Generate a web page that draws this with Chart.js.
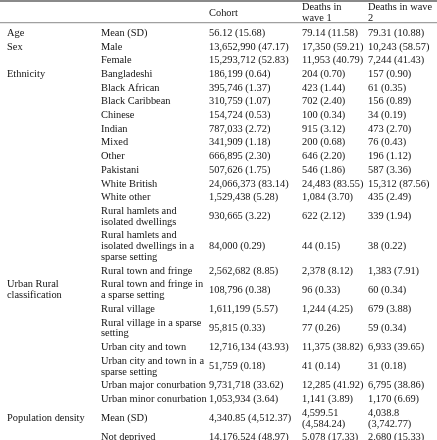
<!DOCTYPE html>
<html>
<head>
<meta charset="utf-8">
<script src="https://cdn.jsdelivr.net/npm/chart.js@4.4.0/dist/chart.umd.min.js"></script>
<style>
  html, body { margin: 0; padding: 0; background: #fff; }
  canvas { display: block; }
</style>
</head>
<body>
<canvas id="tbl" width="437" height="440"></canvas>
<script>
const headers = ['', '', 'Cohort', 'Deaths in\nwave 1', 'Deaths in wave\n2'];

const groups = [
  'Age', 'Sex', '', 'Ethnicity', '', '', '', '', '', '', '', '', '',
  '', '', '', 'Urban Rural\nclassification', '', '', '', '', '', '',
  'Population density', ''
];

const labels = [
  'Mean (SD)', 'Male', 'Female', 'Bangladeshi', 'Black African', 'Black Caribbean',
  'Chinese', 'Indian', 'Mixed', 'Other', 'Pakistani', 'White British', 'White other',
  'Rural hamlets and\nisolated dwellings',
  'Rural hamlets and\nisolated dwellings in a\nsparse setting',
  'Rural town and fringe',
  'Rural town and fringe in\na sparse setting',
  'Rural village',
  'Rural village in a sparse\nsetting',
  'Urban city and town',
  'Urban city and town in a\nsparse setting',
  'Urban major conurbation',
  'Urban minor conurbation',
  'Mean (SD)',
  'Not deprived'
];

const cohort = [
  '56.12 (15.68)', '13,652,990 (47.17)', '15,293,712 (52.83)', '186,199 (0.64)',
  '395,746 (1.37)', '310,759 (1.07)', '154,724 (0.53)', '787,033 (2.72)',
  '341,909 (1.18)', '666,895 (2.30)', '507,626 (1.75)', '24,066,373 (83.14)',
  '1,529,438 (5.28)', '930,665 (3.22)', '84,000 (0.29)', '2,562,682 (8.85)',
  '108,796 (0.38)', '1,611,199 (5.57)', '95,815 (0.33)', '12,716,134 (43.93)',
  '51,759 (0.18)', '9,731,718 (33.62)', '1,053,934 (3.64)', '4,340.85 (4,512.37)',
  '14,176,524 (48.97)'
];

const wave1 = [
  '79.14 (11.58)', '17,350 (59.21)', '11,953 (40.79)', '204 (0.70)', '423 (1.44)',
  '702 (2.40)', '100 (0.34)', '915 (3.12)', '200 (0.68)', '646 (2.20)', '546 (1.86)',
  '24,483 (83.55)', '1,084 (3.70)', '622 (2.12)', '44 (0.15)', '2,378 (8.12)',
  '96 (0.33)', '1,244 (4.25)', '77 (0.26)', '11,375 (38.82)', '41 (0.14)',
  '12,285 (41.92)', '1,141 (3.89)', '4,599.51\n(4,584.24)', '5,078 (17.33)'
];

const wave2 = [
  '79.31 (10.88)', '10,243 (58.57)', '7,244 (41.43)', '157 (0.90)', '61 (0.35)',
  '156 (0.89)', '34 (0.19)', '473 (2.70)', '76 (0.43)', '196 (1.12)', '587 (3.36)',
  '15,312 (87.56)', '435 (2.49)', '339 (1.94)', '38 (0.22)', '1,383 (7.91)',
  '60 (0.34)', '679 (3.88)', '59 (0.34)', '6,933 (39.65)', '31 (0.18)',
  '6,795 (38.86)', '1,170 (6.69)', '4,038.8\n(3,742.77)', '2,680 (15.33)'
];

// layout
const COL_X = [7, 101, 209, 302, 368];
const LINE = 10.8;
const HEAD_LINE = 11;
const PAD = 2.9;
const HEAD_TOP = 2;
const BODY_TOP = 26.25;
const FONT = '10.4px "Liberation Serif"';

const nLines = s => s.split('\n').length;
const columns = [groups, labels, cohort, wave1, wave2];

// row centres from line counts (group column spans rows, so it is left out)
const rowY = [];
let cursorY = BODY_TOP;
labels.forEach((_, i) => {
  const n = Math.max(nLines(labels[i]), nLines(cohort[i]), nLines(wave1[i]), nLines(wave2[i]));
  const h = n * LINE + PAD;
  rowY.push(cursorY + h / 2);
  cursorY += h;
});
const headY = HEAD_TOP + Math.max(...headers.map(nLines)) * HEAD_LINE / 2;

const datasets = columns.map((col, c) => ({
  data: col.map((t, i) => ({ x: COL_X[c], y: rowY[i], t }))
}));
datasets.push({ data: headers.map((t, c) => ({ x: COL_X[c], y: headY, t })) });

const cellText = {
  id: 'cellText',
  beforeDatasetsDraw(chart) {
    const { ctx, chartArea: a, scales: { y } } = chart;
    ctx.save();
    ctx.strokeStyle = '#8a8a8a';
    ctx.lineWidth = 2;
    ctx.beginPath();
    ctx.moveTo(a.left, y.getPixelForValue(1));
    ctx.lineTo(a.right, y.getPixelForValue(1));
    ctx.stroke();
    ctx.strokeStyle = '#a0a0a0';
    ctx.lineWidth = 1.2;
    ctx.beginPath();
    ctx.moveTo(a.left, y.getPixelForValue(22.6));
    ctx.lineTo(a.right, y.getPixelForValue(22.6));
    ctx.stroke();
    ctx.restore();
  },
  afterDatasetsDraw(chart) {
    const { ctx, scales: { y } } = chart;
    ctx.save();
    ctx.font = FONT + ', "Times New Roman", serif';
    ctx.fillStyle = '#141414';
    ctx.textBaseline = 'middle';
    chart.data.datasets.forEach((ds, i) => {
      const isHead = i === chart.data.datasets.length - 1;
      const dy = Math.abs(y.getPixelForValue(isHead ? HEAD_LINE : LINE) - y.getPixelForValue(0));
      chart.getDatasetMeta(i).data.forEach((pt, j) => {
        const parts = ds.data[j].t.split('\n');
        parts.forEach((s, k) => {
          if (s) ctx.fillText(s, pt.x, pt.y + (k - (parts.length - 1) / 2) * dy);
        });
      });
    });
    ctx.restore();
  }
};

function draw() {
  new Chart(document.getElementById('tbl'), {
    type: 'scatter',
    data: { datasets },
    options: {
      responsive: false,
      animation: false,
      events: [],
      layout: { padding: 0 },
      elements: { point: { radius: 0, hoverRadius: 0 } },
      plugins: { legend: { display: false }, tooltip: { enabled: false } },
      scales: {
        x: { type: 'linear', min: 0, max: 437, display: false },
        y: { type: 'linear', min: 0, max: 440, reverse: true, display: false }
      }
    },
    plugins: [cellText]
  });
}

document.fonts.load(FONT).then(draw, draw);
</script>
</body>
</html>
